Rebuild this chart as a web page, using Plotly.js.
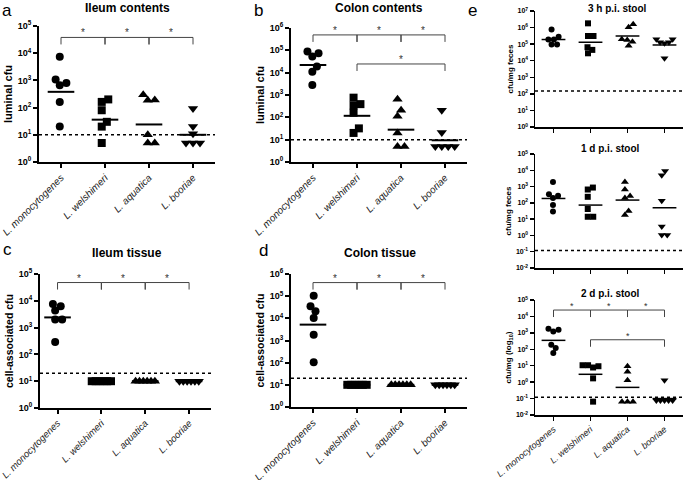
<!DOCTYPE html>
<html>
<head>
<meta charset="utf-8">
<script src="https://cdn.plot.ly/plotly-3.0.1.min.js"></script>
<style>
html, body { margin: 0; padding: 0; background: #fff; }
#plot { width: 685px; height: 480px; }
</style>
</head>
<body>
<div id="plot"></div>
<script>
var species = ['L. monocytogenes', 'L. welshimeri', 'L. aquatica', 'L. booriae'];
var symbols = ['circle', 'square', 'triangle-up', 'triangle-down'];

// a - ileum contents, luminal cfu
var ileumContents = [
  [7400, 1080, 670, 810, 162, 20],
  [200, 162, 80, 30, 20, 5],
  [295, 188, 190, 10, 5, 5],
  [93, 20, 11, 5, 5, 5]
];
var ileumContentsMean = [380, 36, 24, 10];
var ileumContentsBrackets = [[0, 1, 38000], [1, 2, 38000], [2, 3, 38000]];

// b - colon contents, luminal cfu
var colonContents = [
  [89000, 53000, 74000, 19000, 11000, 2800],
  [760, 390, 340, 160, 32, 20],
  [640, 210, 113, 20, 5, 5],
  [210, 21, 5, 5, 5, 5]
];
var colonContentsMean = [22000, 117, 28, 9.4];
var colonContentsBrackets = [[0, 1, 490000], [1, 2, 490000], [2, 3, 490000], [1, 3, 24500]];

// c - ileum tissue, cell-associated cfu
var ileumTissue = [
  [7600, 4300, 6200, 2000, 2000, 290],
  [10, 10, 10, 10, 10, 10],
  [10, 10, 10, 10, 10, 10],
  [10, 10, 10, 10, 10, 10]
];
var ileumTissueMean = [2400, 10, 10, 10];
var ileumTissueBrackets = [[0, 1, 48000], [1, 2, 48000], [2, 3, 48000]];

// d - colon tissue, cell-associated cfu
var colonTissue = [
  [105000, 35000, 21000, 10400, 1830, 104],
  [10, 10, 10, 10, 10, 10],
  [10, 10, 10, 10, 10, 10],
  [10, 10, 10, 10, 10, 10]
];
var colonTissueMean = [5200, 10, 10, 10];
var colonTissueBrackets = [[0, 1, 410000], [1, 2, 410000], [2, 3, 410000]];

// e - stool, cfu/mg feces
var stool3h = [
  [770000, 280000, 190000, 190000, 95000, 95000],
  [1800000, 310000, 310000, 65000, 45000, 28000],
  [1600000, 1050000, 200000, 178000, 140000, 81000],
  [200000, 115000, 130000, 130000, 200000, 14000]
];
var stool3hMean = [190000, 130000, 310000, 89000];

var stool1d = [
  [1900, 270, 200, 340, 73, 29],
  [870, 660, 235, 42, 14, 14],
  [1900, 660, 260, 200, 32, 18],
  [9100, 4900, 135, 3.5, 1.07, 1.07]
];
var stool1dMean = [186, 73, 148, 50];

var stool2d = [
  [1780, 1230, 1550, 190, 120, 60],
  [10.7, 7.8, 9.3, 10.7, 1.7, 0.065],
  [9.3, 4.3, 1.3, 0.065, 0.065, 0.065],
  [1.3, 0.075, 0.075, 0.075, 0.075, 0.075]
];
var stool2dMean = [350, 3.0, 0.48, 0.1];
var stool2dBrackets = [[0, 1, 24500], [1, 2, 24500], [2, 3, 24500], [1, 3, 380]];

var W = 685, H = 480;
var FONT = 'Liberation Sans, Arial, sans-serif';

var panels = [
  {letter: 'a', data: ileumContents, mean: ileumContentsMean, lod: 10, brackets: ileumContentsBrackets,
   title: 'Ileum contents', ytitle: 'luminal cfu', exps: [0, 5], xr: [-0.5, 3.5],
   xd: [39, 215], yd: [26, 162], small: false, labels: true, labelSize: 10, labelAngle: -45,
   titlePos: [127, 8], letterPos: [7, 10]},
  {letter: 'b', data: colonContents, mean: colonContentsMean, lod: 10, brackets: colonContentsBrackets,
   title: 'Colon contents', ytitle: 'luminal cfu', exps: [0, 6], xr: [-0.5, 3.5],
   xd: [291, 467], yd: [28, 162], small: false, labels: true, labelSize: 10, labelAngle: -45,
   titlePos: [379, 8], letterPos: [258, 10]},
  {letter: 'c', data: ileumTissue, mean: ileumTissueMean, lod: 20, brackets: ileumTissueBrackets,
   title: 'Ileum tissue', ytitle: 'cell-associated cfu', exps: [0, 5], xr: [-0.4, 3.5],
   xd: [40, 211], yd: [274, 408], small: false, labels: true, labelSize: 9.5, labelAngle: -45,
   titlePos: [127, 253], letterPos: [7, 249]},
  {letter: 'd', data: colonTissue, mean: colonTissueMean, lod: 20, brackets: colonTissueBrackets,
   title: 'Colon tissue', ytitle: 'cell-associated cfu', exps: [0, 6], xr: [-0.5, 3.5],
   xd: [291, 467], yd: [274, 407], small: false, labels: true, labelSize: 10, labelAngle: -45,
   titlePos: [380, 253], letterPos: [263, 250]},
  {letter: 'e', data: stool3h, mean: stool3hMean, lod: 150, brackets: [],
   title: '3 h p.i. stool', ytitle: 'cfu/mg feces', exps: [0, 7], xr: [-0.5, 3.5],
   xd: [535, 683], yd: [11, 127], small: true, labels: false, labelSize: 9, labelAngle: -40,
   titlePos: [617, 8], letterPos: [472, 10]},
  {letter: '', data: stool1d, mean: stool1dMean, lod: 0.12, brackets: [],
   title: '1 d p.i. stool', ytitle: 'cfu/mg feces', exps: [-2, 5], xr: [-0.5, 3.5],
   xd: [535, 683], yd: [154, 268], small: true, labels: false, labelSize: 9, labelAngle: -40,
   titlePos: [610, 148]},
  {letter: '', data: stool2d, mean: stool2dMean, lod: 0.12, brackets: stool2dBrackets,
   title: '2 d p.i. stool', ytitle: 'cfu/mg (log<sub>10</sub>)', exps: [-2, 5], xr: [-0.5, 3.5],
   xd: [535, 683], yd: [300, 415], small: true, labels: true, labelSize: 9, labelAngle: -40,
   titlePos: [610, 293]}
];

// simple beeswarm: spread points that would overlap, offsets in pixels
function swarm(vals, pxPerDec, sep, maxHalf) {
  var order = vals.map(function (v, i) { return i; })
    .sort(function (a, b) { return vals[a] - vals[b]; });
  var placed = [], out = [];
  order.forEach(function (i) {
    var y = Math.log10(vals[i]) * pxPerDec;
    var cands = [0];
    placed.forEach(function (p) {
      var dy = Math.abs(p.y - y);
      if (dy < sep) {
        var dx = Math.sqrt(sep * sep - dy * dy);
        cands.push(p.x + dx, p.x - dx);
      }
    });
    cands.sort(function (a, b) { return Math.abs(a) - Math.abs(b); });
    var x = cands.find(function (c) {
      return placed.every(function (p) { return Math.hypot(p.x - c, p.y - y) >= sep - 1e-6; });
    });
    placed.push({x: x, y: y});
    out[i] = x;
  });
  var lo = Math.min.apply(null, out), hi = Math.max.apply(null, out);
  var mid = (lo + hi) / 2;
  out = out.map(function (o) { return o - mid; });
  var half = (hi - lo) / 2;
  if (half > maxHalf) out = out.map(function (o) { return o * maxHalf / half; });
  return out;
}

var traces = [], shapes = [], annotations = [];
var layout = {
  width: W, height: H,
  margin: {l: 0, r: 0, t: 0, b: 0},
  paper_bgcolor: '#fff', plot_bgcolor: 'rgba(0,0,0,0)',
  showlegend: false,
  font: {family: FONT, color: '#000'}
};

panels.forEach(function (p, k) {
  var n = k === 0 ? '' : String(k + 1);
  var xa = 'x' + n, ya = 'y' + n;
  var wPx = p.xd[1] - p.xd[0], hPx = p.yd[1] - p.yd[0];
  var pxPerCat = wPx / (p.xr[1] - p.xr[0]);
  var pxPerDec = hPx / (p.exps[1] - p.exps[0]);
  var lw = p.small ? 1.5 : 2;

  p.data.forEach(function (vals, g) {
    var offs = swarm(vals, pxPerDec, p.small ? 5.5 : 7, 0.22 * pxPerCat);
    var size = p.small ? 6 : 8;
    if (g >= 2) size += 1;
    traces.push({
      type: 'scatter', mode: 'markers', xaxis: xa, yaxis: ya,
      x: offs.map(function (o) { return g + o / pxPerCat; }), y: vals,
      marker: {symbol: symbols[g], size: size, color: '#000'},
      cliponaxis: false, hoverinfo: 'y'
    });
  });

  traces.push({
    type: 'scatter', mode: 'markers', xaxis: xa, yaxis: ya,
    x: [0, 1, 2, 3], y: p.mean,
    marker: {symbol: 'line-ew', size: p.small ? 17 : 19, line: {width: lw, color: '#000'}},
    cliponaxis: false, hoverinfo: 'y'
  });

  var drop = 7 / pxPerDec;
  p.brackets.forEach(function (b) {
    var lowY = b[2] / Math.pow(10, drop);
    traces.push({
      type: 'scatter', mode: 'lines', xaxis: xa, yaxis: ya,
      x: [b[0], b[0], b[1], b[1]], y: [lowY, b[2], b[2], lowY],
      line: {color: '#444', width: 1}, cliponaxis: false, hoverinfo: 'skip'
    });
    annotations.push({
      xref: xa, yref: ya, x: (b[0] + b[1]) / 2, y: Math.log10(b[2]),
      text: '*', showarrow: false, yanchor: 'bottom', yshift: -3,
      font: {size: p.small ? 9 : 10, color: '#333'}
    });
  });

  shapes.push({
    type: 'line', xref: xa + ' domain', yref: ya, x0: 0, x1: 1, y0: p.lod, y1: p.lod,
    line: {color: '#000', width: 1.5, dash: 'dot'}
  });

  var tv = [], tt = [];
  for (var e = p.exps[0]; e <= p.exps[1]; e++) {
    tv.push(Math.pow(10, e));
    tt.push('10<sup>' + (e < 0 ? '-' : '') + Math.abs(e) + '</sup>');
  }

  layout['xaxis' + n] = {
    domain: [p.xd[0] / W, p.xd[1] / W], anchor: ya, range: p.xr,
    tickvals: [0, 1, 2, 3], ticktext: species.map(function (s) { return '<i>' + s + '</i>'; }),
    showticklabels: p.labels, tickangle: p.labelAngle, ticklabeloverflow: 'allow',
    tickfont: {size: p.labelSize, color: '#222', family: FONT},
    ticks: 'outside', ticklen: 4, tickwidth: lw, tickcolor: '#000',
    showline: true, linewidth: lw, linecolor: '#000',
    showgrid: false, zeroline: false, fixedrange: true
  };
  layout['yaxis' + n] = {
    domain: [1 - p.yd[1] / H, 1 - p.yd[0] / H], anchor: xa, type: 'log', range: p.exps,
    tickvals: tv, ticktext: tt,
    tickfont: {size: p.small ? 7 : 9, weight: 'bold', family: FONT},
    ticks: 'outside', ticklen: 4, tickwidth: lw, tickcolor: '#000',
    showline: true, linewidth: lw, linecolor: '#000',
    showgrid: false, zeroline: false, fixedrange: true,
    title: {text: p.ytitle, font: {size: p.small ? 8 : (p.ytitle.length > 12 ? 10.5 : 11), weight: 'bold', family: FONT}, standoff: 3}
  };

  annotations.push({
    xref: 'paper', yref: 'paper', x: p.titlePos[0] / W, y: 1 - p.titlePos[1] / H,
    text: p.title, showarrow: false, xanchor: 'center', yanchor: 'middle',
    font: {size: p.small ? 10 : 12, weight: 'bold', family: FONT}
  });
  if (p.letter) {
    annotations.push({
      xref: 'paper', yref: 'paper', x: p.letterPos[0] / W, y: 1 - p.letterPos[1] / H,
      text: p.letter, showarrow: false, xanchor: 'center', yanchor: 'middle',
      font: {size: 17, family: FONT}
    });
  }
});

layout.shapes = shapes;
layout.annotations = annotations;

Plotly.newPlot('plot', traces, layout, {staticPlot: true});
</script>
</body>
</html>
